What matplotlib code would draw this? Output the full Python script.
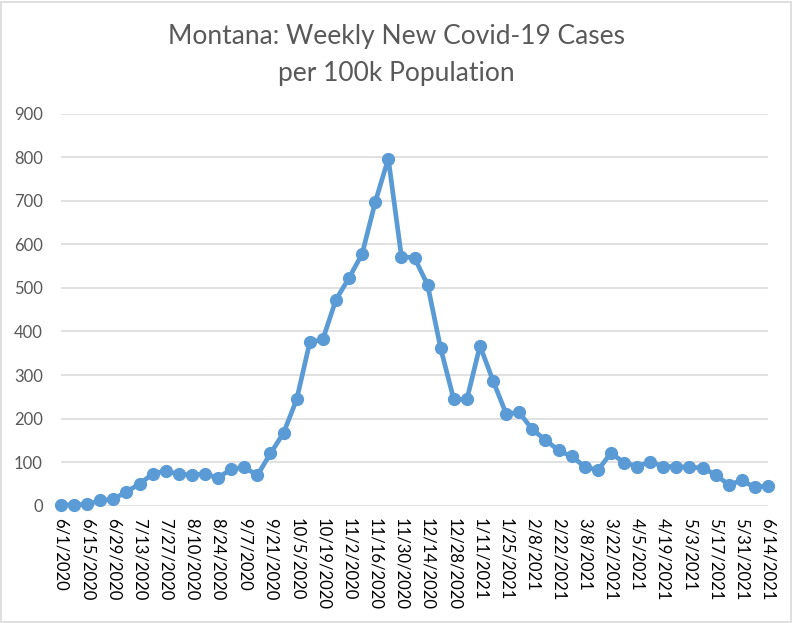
import matplotlib
matplotlib.use("Agg")
import matplotlib.pyplot as plt
from matplotlib.patches import Rectangle

title = "Montana: Weekly New Covid-19 Cases\nper 100k Population"

cases = [2, 2, 3, 12, 15, 32, 50, 73, 80, 72, 71, 73, 64, 84, 88, 70,
         120, 167, 244, 375, 382, 473, 523, 578, 697, 797,
         572, 569, 507, 361, 244, 244, 367, 287, 211, 214, 175, 151,
         127, 113, 90, 81, 121, 99, 90, 101, 90, 90, 88, 87, 71, 48,
         58, 42, 46]

tick_labels = ["6/1/2020", "6/15/2020", "6/29/2020", "7/13/2020", "7/27/2020",
               "8/10/2020", "8/24/2020", "9/7/2020", "9/21/2020", "10/5/2020",
               "10/19/2020", "11/2/2020", "11/16/2020", "11/30/2020",
               "12/14/2020", "12/28/2020", "1/11/2021", "1/25/2021",
               "2/8/2021", "2/22/2021", "3/8/2021", "3/22/2021", "4/5/2021",
               "4/19/2021", "5/3/2021", "5/17/2021", "5/31/2021", "6/14/2021"]

y_ticks = [0, 100, 200, 300, 400, 500, 600, 700, 800, 900]

plt.rcParams['font.family'] = ['Lato', 'DejaVu Sans']

fig = plt.figure(figsize=(7.93, 6.23), dpi=100)
ax = fig.add_axes([61 / 793, 117.3 / 623, (768 - 61) / 793, (505.7 - 113.7) / 623])

x = list(range(len(cases)))
ax.plot(x, cases, color="#5B9BD5", linewidth=3.4, marker="o", markersize=8.5,
        markeredgecolor="#5B9BD5", markerfacecolor="#5B9BD5", zorder=3,
        clip_on=False)

ax.set_xlim(0, len(cases) - 1)
ax.set_ylim(0, 900)
ax.set_yticks(y_ticks)
ax.set_yticklabels([str(v) for v in y_ticks], fontsize=12, color="#595959")
ax.set_xticks(list(range(0, len(cases), 2)))
ax.set_xticklabels(tick_labels, rotation=-90, fontsize=12, color="black",
                   ha="center", va="top")
ax.tick_params(axis="both", length=0)
ax.tick_params(axis="y", pad=13)
ax.tick_params(axis="x", pad=9)
ax.grid(axis="y", color="#D9D9D9", linewidth=1.1)
ax.set_axisbelow(True)
for s in ax.spines.values():
    s.set_visible(False)

fig.text(0.5, 1 - 55 / 623, title, ha="center", va="center", fontsize=19,
         color="#595959", linespacing=1.6)

fig.patches.append(Rectangle((0.5 / 793, 1.5 / 623), 790.5 / 793, 620 / 623,
                             transform=fig.transFigure, fill=False,
                             edgecolor="#D9D9D9", linewidth=1.2))

fig.savefig("out.png", dpi=100)
